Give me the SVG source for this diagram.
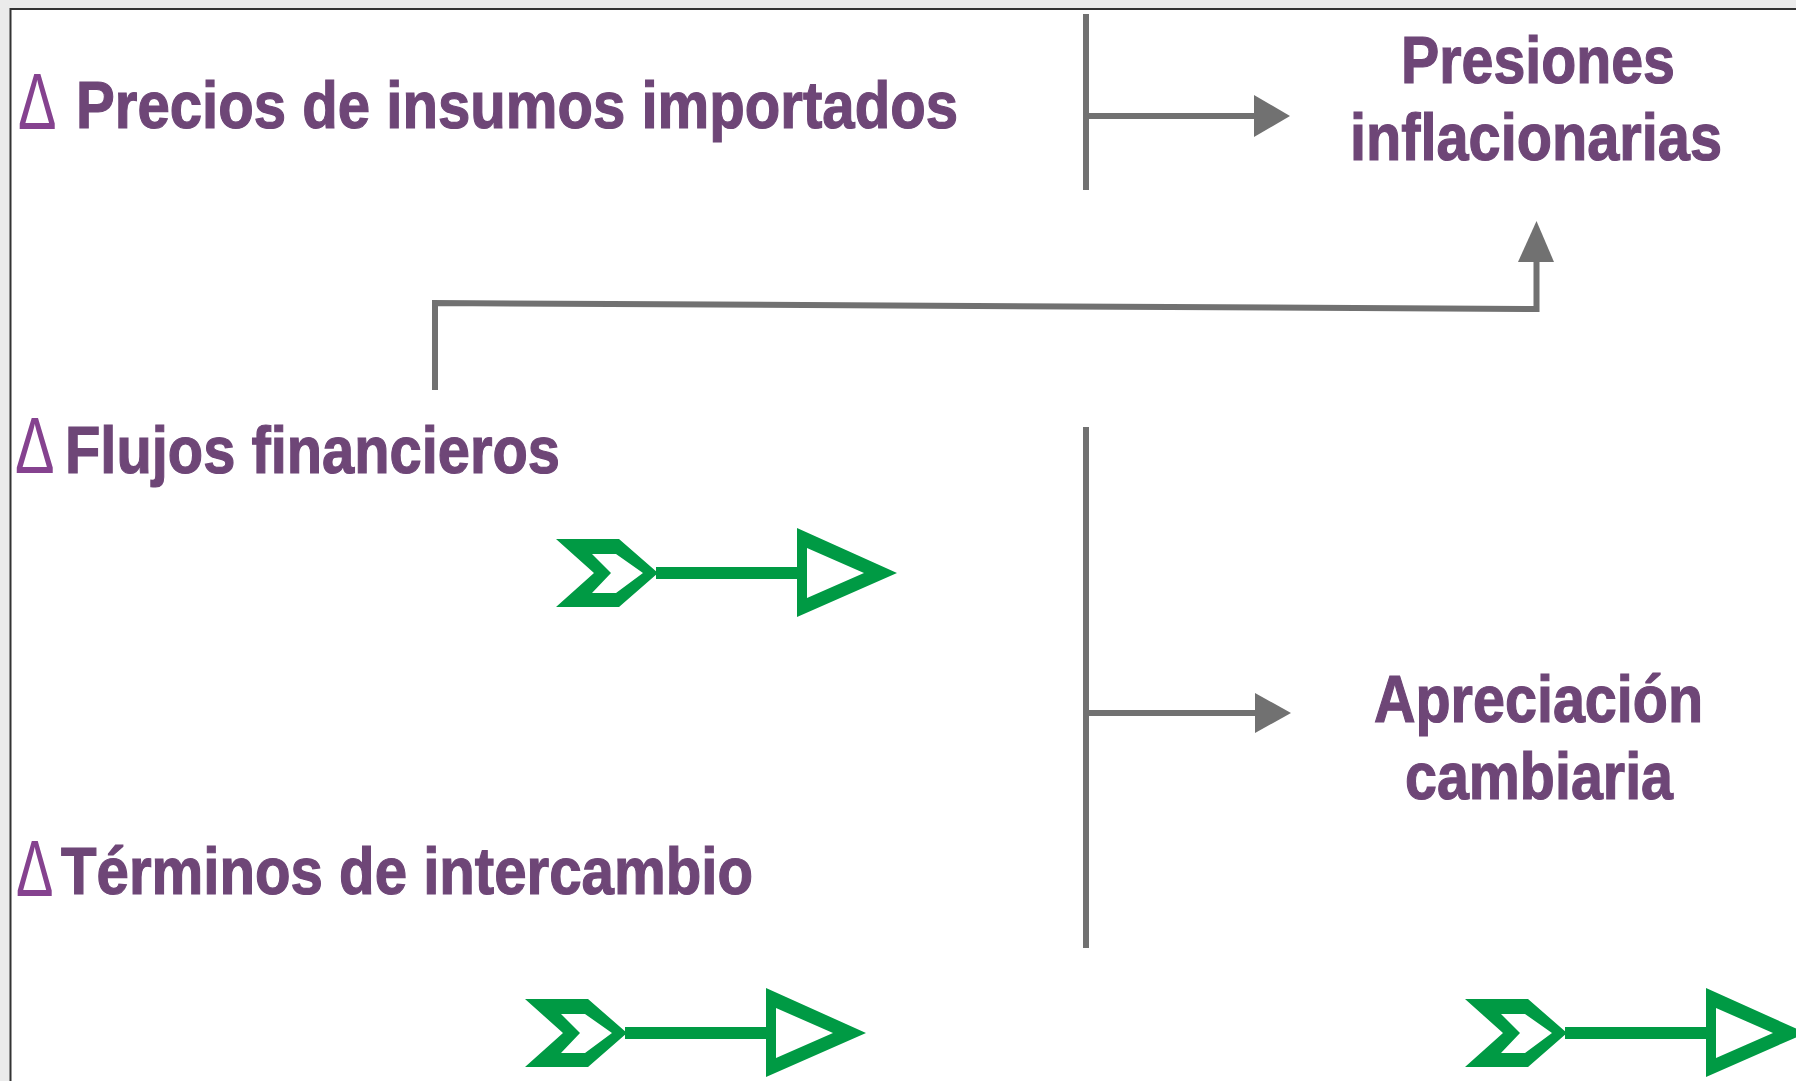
<svg xmlns="http://www.w3.org/2000/svg" width="1796" height="1081" viewBox="0 0 1796 1081">
<style>
.lbl{font-family:"Liberation Sans",Arial,sans-serif;font-weight:bold;font-size:66px;fill:#6E4677;stroke:#6E4677;stroke-width:1.2}
.dlt{font-family:"Liberation Sans",Arial,sans-serif;font-size:80px;fill:#85428F}
.ln{stroke:#717171;stroke-width:6;fill:none}
.hd{fill:#717171}
.gr{fill:#009A44;fill-rule:evenodd}
</style>
<defs>
<g id="garrow">
<path class="gr" d="M0,-34 L63,-34 L102,0 L63,34 L0,34 L38,0 Z M36,-19 L55,0 L36,20 L60,20 L87,0 L60,-19 Z"/>
<rect class="gr" x="100" y="-6" width="151" height="12"/>
<path class="gr" d="M241,-45 L341,0 L241,44 Z M251,-25 L251,25 L308,0 Z"/>
</g>
</defs>
<rect x="0" y="0" width="1796" height="1081" fill="#EBEBEB"/>
<rect x="10.5" y="9" width="1800" height="1090" fill="#FFFFFF" stroke="#333333" stroke-width="2"/>

<g id="connectors">
<line class="ln" x1="1086" y1="14" x2="1086" y2="190"/>
<line class="ln" x1="1086" y1="116" x2="1258" y2="116"/>
<polygon class="hd" points="1254,95 1290,116 1254,137"/>
<line class="ln" x1="1086" y1="427" x2="1086" y2="948"/>
<line class="ln" x1="1086" y1="713" x2="1259" y2="713"/>
<polygon class="hd" points="1255,693 1291,713 1255,733"/>
<polyline class="ln" points="435,390 435,303 1536.5,309 1536.5,258"/>
<polygon class="hd" points="1518,262 1536.5,221 1554,262"/>
</g>

<g id="node-precios">
<text class="dlt" transform="translate(18,129) scale(0.72,1)">Δ</text>
<text class="lbl" x="76" y="128" textLength="882" lengthAdjust="spacingAndGlyphs">Precios de insumos importados</text>
</g>
<g id="node-flujos">
<text class="dlt" transform="translate(15,473) scale(0.74,1)">Δ</text>
<text class="lbl" x="65" y="473" textLength="495" lengthAdjust="spacingAndGlyphs">Flujos financieros</text>
</g>
<g id="node-terminos">
<text class="dlt" transform="translate(16,896) scale(0.70,1)">Δ</text>
<text class="lbl" x="61" y="894" textLength="692" lengthAdjust="spacingAndGlyphs">Términos de intercambio</text>
</g>
<g id="node-presiones">
<text class="lbl" x="1401" y="83" textLength="274" lengthAdjust="spacingAndGlyphs">Presiones</text>
<text class="lbl" x="1350" y="160" textLength="372" lengthAdjust="spacingAndGlyphs">inflacionarias</text>
</g>
<g id="node-apreciacion">
<text class="lbl" x="1374" y="722" textLength="329" lengthAdjust="spacingAndGlyphs">Apreciación</text>
<text class="lbl" x="1405" y="799" textLength="268" lengthAdjust="spacingAndGlyphs">cambiaria</text>
</g>
<g id="green-arrows">
<use href="#garrow" transform="translate(556,573)"/>
<use href="#garrow" transform="translate(525,1033)"/>
<use href="#garrow" transform="translate(1465,1033)"/>
</g>
</svg>
